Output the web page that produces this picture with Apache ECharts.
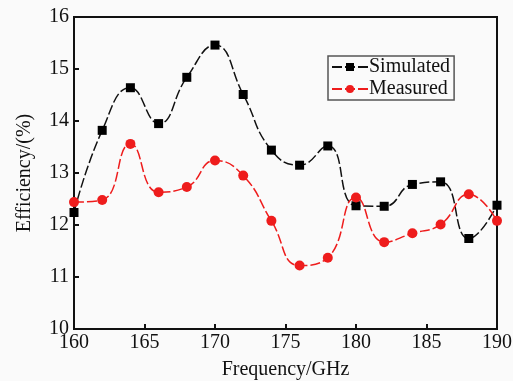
<!DOCTYPE html>
<html><head><meta charset="utf-8">
<script src="https://cdn.jsdelivr.net/npm/echarts@6/dist/echarts.min.js"></script>
<style>html,body{margin:0;padding:0;background:#fafafa}#c{width:513px;height:381px}</style>
</head><body><div id="c"></div>
<script>
const frequencies = [160,162,164,166,168,170,172,174,176,178,180,182,184,186,188,190];
const simulated = [12.24,13.82,14.64,13.95,14.84,15.46,14.51,13.44,13.15,13.52,12.37,12.36,12.78,12.83,11.74,12.38];
const measured = [12.44,12.48,13.56,12.63,12.73,13.24,12.95,12.08,11.22,11.37,12.53,11.67,11.84,12.01,12.59,12.08];
const xTicks = [160,165,170,175,180,185,190];
const yTicks = [10,11,12,13,14,15,16];
const seriesNames = ['Simulated','Measured'];

const font = 'Liberation Serif';
const chart = echarts.init(document.getElementById('c'));
chart.setOption({
  animation:false,
  backgroundColor:'#fafafa',
  grid:{left:74,right:16,top:17,bottom:52,containLabel:false,outerBoundsMode:'none',
        show:true,borderColor:'#111',borderWidth:2,backgroundColor:'transparent'},
  legend:{
    left:328, top:56, orient:'vertical', itemGap:2, itemWidth:36, itemHeight:10,
    padding:[1,4,1,3],
    borderColor:'#555', borderWidth:1.5,
    textStyle:{fontFamily:font,fontSize:20,color:'#111',padding:[0,0,0,-4]},
    data:seriesNames
  },
  xAxis:{
    type:'value', min:xTicks[0], max:xTicks[xTicks.length-1], interval:5,
    name:'Frequency/GHz', nameLocation:'middle', nameGap:31,
    nameTextStyle:{fontFamily:font,fontSize:20,color:'#111'},
    axisLine:{lineStyle:{color:'#111',width:2}},
    axisTick:{inside:true,length:5,lineStyle:{color:'#111',width:2}},
    axisLabel:{fontFamily:font,fontSize:20,color:'#111',margin:4},
    splitLine:{show:false}
  },
  yAxis:{
    type:'value', min:yTicks[0], max:yTicks[yTicks.length-1], interval:1,
    name:'Efficiency/(%)', nameLocation:'middle', nameGap:39, nameRotate:90,
    nameTextStyle:{fontFamily:font,fontSize:20,color:'#111'},
    axisLine:{show:true,lineStyle:{color:'#111',width:2}},
    axisTick:{show:true,inside:true,length:5,lineStyle:{color:'#111',width:2}},
    axisLabel:{fontFamily:font,fontSize:20,color:'#111',margin:5},
    splitLine:{show:false}
  },
  series:[
    {name:seriesNames[0],type:'line',smooth:0.5,symbol:'rect',symbolSize:9,
     data:frequencies.map((f,i)=>[f,simulated[i]]),
     itemStyle:{color:'#000'},lineStyle:{color:'#111',width:1.5,type:[10,3]}},
    {name:seriesNames[1],type:'line',smooth:0.5,symbol:'circle',symbolSize:10,
     data:frequencies.map((f,i)=>[f,measured[i]]),
     itemStyle:{color:'#ee1c1c'},lineStyle:{color:'#ee1c1c',width:1.5,type:[10,3]}}
  ]
});
</script></body></html>
